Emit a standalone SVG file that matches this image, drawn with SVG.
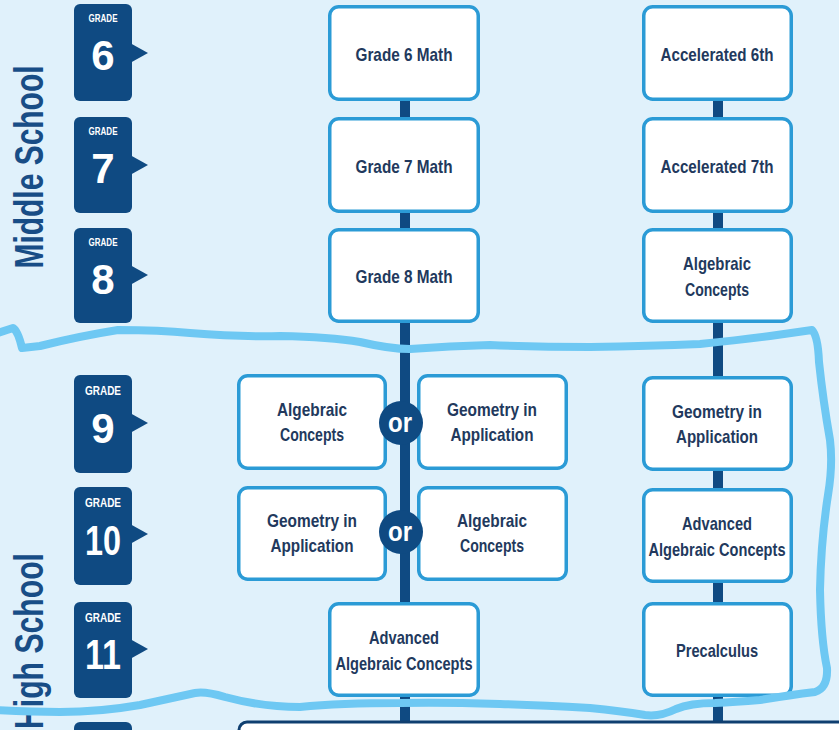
<svg xmlns="http://www.w3.org/2000/svg" width="839" height="730" viewBox="0 0 839 730">
<defs>
<style>
.tab{fill:#0f4a82}
.grade{fill:#ffffff;font-family:"Liberation Sans",Arial,sans-serif;font-weight:bold;text-anchor:middle}
.num{fill:#ffffff;font-family:"Liberation Sans",Arial,sans-serif;font-weight:bold;font-size:42px;text-anchor:middle}
.box{fill:#ffffff;stroke:#2b9bd6;stroke-width:3.5}
.lbl{fill:#22395d;font-family:"Liberation Sans",Arial,sans-serif;font-weight:bold;font-size:19px;text-anchor:middle}
.conn{stroke:#0f4a82;stroke-width:10;fill:none}
.orc{fill:#0f4a82}
.ort{fill:#ffffff;font-family:"Liberation Sans",Arial,sans-serif;font-weight:bold;font-size:28px;text-anchor:middle}
.school{fill:#184d86;font-family:"Liberation Sans",Arial,sans-serif;font-weight:bold;font-size:40px}
.hl{fill:none;stroke:#6ec8f3;stroke-width:8;stroke-linecap:round;stroke-linejoin:round}
</style>
</defs>
<rect x="0" y="0" width="839" height="730" fill="#e0f1fb"/>

<text class="school" transform="translate(43,167) rotate(-90)" text-anchor="middle" textLength="203" lengthAdjust="spacingAndGlyphs">Middle School</text>
<text class="school" transform="translate(43,553) rotate(-90)" text-anchor="end" textLength="176" lengthAdjust="spacingAndGlyphs">High School</text>

<g id="tab6"><rect class="tab" x="74" y="4" width="58" height="97" rx="6"/><polygon class="tab" points="130,43 148,53 130,63"/><text class="grade" x="103" y="22" font-size="10" textLength="29" lengthAdjust="spacingAndGlyphs">GRADE</text><text class="num" x="103" y="70">6</text></g>
<g id="tab7"><rect class="tab" x="74" y="117" width="58" height="96" rx="6"/><polygon class="tab" points="130,155 148,165 130,175"/><text class="grade" x="103" y="135" font-size="10" textLength="29" lengthAdjust="spacingAndGlyphs">GRADE</text><text class="num" x="103" y="183">7</text></g>
<g id="tab8"><rect class="tab" x="74" y="228" width="58" height="95" rx="6"/><polygon class="tab" points="130,265 148,275 130,285"/><text class="grade" x="103" y="246" font-size="10" textLength="29" lengthAdjust="spacingAndGlyphs">GRADE</text><text class="num" x="103" y="294">8</text></g>
<g id="tab9"><rect class="tab" x="74" y="375" width="58" height="98" rx="6"/><polygon class="tab" points="130,413 148,423 130,433"/><text class="grade" x="103" y="395" font-size="12" textLength="36" lengthAdjust="spacingAndGlyphs">GRADE</text><text class="num" x="103" y="443">9</text></g>
<g id="tab10"><rect class="tab" x="74" y="487" width="58" height="98" rx="6"/><polygon class="tab" points="130,524 148,534 130,544"/><text class="grade" x="103" y="507" font-size="12" textLength="36" lengthAdjust="spacingAndGlyphs">GRADE</text><text class="num" x="103" y="555" textLength="36" lengthAdjust="spacingAndGlyphs">10</text></g>
<g id="tab11"><rect class="tab" x="74" y="602" width="58" height="96" rx="6"/><polygon class="tab" points="130,639 148,649 130,659"/><text class="grade" x="103" y="622" font-size="12" textLength="36" lengthAdjust="spacingAndGlyphs">GRADE</text><text class="num" x="103" y="669" textLength="36" lengthAdjust="spacingAndGlyphs">11</text></g>
<g id="tab12"><rect class="tab" x="74" y="722" width="58" height="96" rx="6"/></g>

<g id="connectors">
<line class="conn" x1="405" y1="100" x2="405" y2="724"/>
<line class="conn" x1="718" y1="100" x2="718" y2="724"/>
</g>

<g id="box12"><rect x="239" y="722" width="640" height="60" rx="8" fill="#ffffff" stroke="#0f3f70" stroke-width="3"/></g>

<g id="g6math"><rect class="box" x="329.75" y="6.75" width="148.5" height="92.5" rx="9"/><text class="lbl" x="404" y="61" textLength="97" lengthAdjust="spacingAndGlyphs">Grade 6 Math</text></g>
<g id="g7math"><rect class="box" x="329.75" y="118.75" width="148.5" height="92.5" rx="9"/><text class="lbl" x="404" y="173" textLength="97" lengthAdjust="spacingAndGlyphs">Grade 7 Math</text></g>
<g id="g8math"><rect class="box" x="329.75" y="229.75" width="148.5" height="91.5" rx="9"/><text class="lbl" x="404" y="283" textLength="97" lengthAdjust="spacingAndGlyphs">Grade 8 Math</text></g>

<g id="acc6"><rect class="box" x="643.75" y="6.75" width="147.5" height="92.5" rx="9"/><text class="lbl" x="717" y="61" textLength="113" lengthAdjust="spacingAndGlyphs">Accelerated 6th</text></g>
<g id="acc7"><rect class="box" x="643.75" y="118.75" width="147.5" height="92.5" rx="9"/><text class="lbl" x="717" y="173" textLength="113" lengthAdjust="spacingAndGlyphs">Accelerated 7th</text></g>
<g id="alg8"><rect class="box" x="643.75" y="229.75" width="147.5" height="91.5" rx="9"/><text class="lbl" x="717" y="270" textLength="68" lengthAdjust="spacingAndGlyphs">Algebraic</text><text class="lbl" x="717" y="296" textLength="64" lengthAdjust="spacingAndGlyphs">Concepts</text></g>

<g id="alg9"><rect class="box" x="238.75" y="375.75" width="146.5" height="92.5" rx="9"/><text class="lbl" x="312" y="416" textLength="70" lengthAdjust="spacingAndGlyphs">Algebraic</text><text class="lbl" x="312" y="441" textLength="64" lengthAdjust="spacingAndGlyphs">Concepts</text></g>
<g id="geo9"><rect class="box" x="418.75" y="375.75" width="147.5" height="92.5" rx="9"/><text class="lbl" x="492" y="416" textLength="90" lengthAdjust="spacingAndGlyphs">Geometry in</text><text class="lbl" x="492" y="441" textLength="83" lengthAdjust="spacingAndGlyphs">Application</text></g>
<g id="or9"><circle class="orc" cx="401" cy="423" r="22"/><text class="ort" x="400" y="432" textLength="24" lengthAdjust="spacingAndGlyphs">or</text></g>
<g id="geoR9"><rect class="box" x="643.75" y="377.75" width="147.5" height="91.5" rx="9"/><text class="lbl" x="717" y="418" textLength="90" lengthAdjust="spacingAndGlyphs">Geometry in</text><text class="lbl" x="717" y="443" textLength="82" lengthAdjust="spacingAndGlyphs">Application</text></g>

<g id="geo10"><rect class="box" x="238.75" y="487.75" width="146.5" height="91.5" rx="9"/><text class="lbl" x="312" y="527" textLength="90" lengthAdjust="spacingAndGlyphs">Geometry in</text><text class="lbl" x="312" y="552" textLength="83" lengthAdjust="spacingAndGlyphs">Application</text></g>
<g id="alg10"><rect class="box" x="418.75" y="487.75" width="147.5" height="91.5" rx="9"/><text class="lbl" x="492" y="527" textLength="70" lengthAdjust="spacingAndGlyphs">Algebraic</text><text class="lbl" x="492" y="552" textLength="64" lengthAdjust="spacingAndGlyphs">Concepts</text></g>
<g id="or10"><circle class="orc" cx="401" cy="532" r="22"/><text class="ort" x="400" y="541" textLength="24" lengthAdjust="spacingAndGlyphs">or</text></g>
<g id="adv10"><rect class="box" x="643.75" y="489.75" width="147.5" height="91.5" rx="9"/><text class="lbl" x="717" y="530" textLength="70" lengthAdjust="spacingAndGlyphs">Advanced</text><text class="lbl" x="717" y="556" textLength="137" lengthAdjust="spacingAndGlyphs">Algebraic Concepts</text></g>

<g id="adv11"><rect class="box" x="329.75" y="603.75" width="148.5" height="91.5" rx="9"/><text class="lbl" x="404" y="644" textLength="70" lengthAdjust="spacingAndGlyphs">Advanced</text><text class="lbl" x="404" y="670" textLength="137" lengthAdjust="spacingAndGlyphs">Algebraic Concepts</text></g>
<g id="precalc11"><rect class="box" x="643.75" y="603.75" width="147.5" height="91.5" rx="9"/><text class="lbl" x="717" y="657" textLength="82" lengthAdjust="spacingAndGlyphs">Precalculus</text></g>

<path class="hl" d="M -5 334 L 13 328 Q 18 331 22 348 L 40 346 Q 80 336 118 330 Q 160 330 190 333 Q 240 337 280 336 Q 330 337 360 342 Q 390 349 410 349 Q 450 346 490 345 Q 540 347 590 347 Q 650 346 700 344 Q 740 340 770 336 L 812 330 Q 818 336 819 362 Q 823 400 830 440 Q 833 465 828 495 Q 821 540 820 590 Q 821 640 827 668 Q 828 688 815 692 Q 790 695 760 700 Q 735 702 715 703 Q 690 703 676 709 Q 660 717 645 715 Q 620 711 590 708 Q 540 705 500 704 Q 440 702 400 703 Q 340 703 300 707 Q 262 707 225 697 Q 205 691 195 693 Q 172 698 140 705 Q 100 712 60 712 Q 30 712 -5 710"/>
</svg>
